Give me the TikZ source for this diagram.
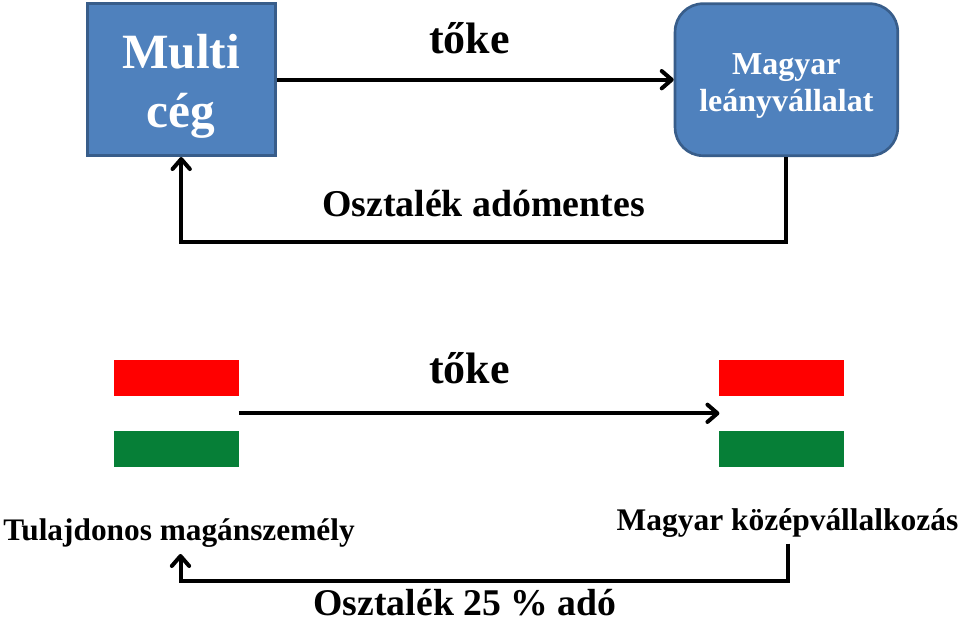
\documentclass[tikz,border=0pt]{standalone}
\usepackage{fontspec}
\setmainfont{Liberation Serif}
\usetikzlibrary{arrows.meta}
\definecolor{boxfill}{HTML}{4F81BD}
\definecolor{boxline}{HTML}{385D8A}
\definecolor{flagred}{HTML}{FF0000}
\definecolor{flaggreen}{HTML}{067F37}
\tikzset{
  x=0.75pt,y=-0.75pt,
  boxnode/.style={fill=boxfill,draw=boxline,line width=2pt,text=white,align=center,inner sep=0pt,minimum height=114pt},
  conn/.style={line width=3pt,line join=miter,-{Straight Barb[length=7.5pt,width=13pt,line width=3pt,round]}},
  plainlabel/.style={text=black,inner sep=0pt,anchor=base},
  stripe/.style={minimum width=93.4pt,minimum height=26.7pt,inner sep=0pt,outer sep=0pt},
}
\begin{document}
\begin{tikzpicture}
\useasboundingbox (0,0) rectangle (960,617);
\node[boxnode,minimum width=141pt,font=\bfseries\fontsize{37}{44}\selectfont] (multi) at (181.2,79.7) {\rule{0pt}{36pt}Multi\\cég};
\node[boxnode,minimum width=167pt,rounded corners=21pt,font=\bfseries\fontsize{24}{28}\selectfont] (leany) at (786.4,79.7) {\rule{0pt}{25.5pt}Magyar\\leányvállalat};
\node[stripe,fill=flagred] (redL) at (176.5,378) {};
\node[stripe,fill=white] (whiteL) at (176.5,413.3) {};
\node[stripe,fill=flaggreen] (greenL) at (176.5,449) {};
\node[stripe,fill=flagred] (redR) at (781.7,378) {};
\node[stripe,fill=white] (whiteR) at (781.7,413.3) {};
\node[stripe,fill=flaggreen] (greenR) at (781.7,449) {};
\node[plainlabel,font=\bfseries\fontsize{33}{38}\selectfont] (t1) at (469.5,54) {tőke};
\node[plainlabel,font=\bfseries\fontsize{28.4}{34}\selectfont] (o1) at (483.5,216.5) {Osztalék adómentes};
\node[plainlabel,font=\bfseries\fontsize{33}{38}\selectfont] (t2) at (469.5,383) {tőke};
\node[plainlabel,font=\bfseries\fontsize{23.5}{28}\selectfont] (tul) at (179,540) {Tulajdonos magánszemély};
\node[plainlabel,font=\bfseries\fontsize{23.6}{28}\selectfont] (mk) at (787.5,530) {Magyar középvállalkozás};
\node[plainlabel,font=\bfseries\fontsize{28.3}{34}\selectfont] (o2) at (465,615.5) {Osztalék 25 \% adó};
\coordinate (lowstart) at (788,543.5);
\coordinate (lowend) at (180.5,554);
\draw[conn] (multi.east) -- (leany.west);
\draw[conn] (leany.south) -- ++(0,85) -| (multi.south);
\draw[conn] (whiteL.east) -- (whiteR.west);
\draw[conn] (lowstart) -- ++(0,37) -| (lowend);
\end{tikzpicture}
\end{document}
